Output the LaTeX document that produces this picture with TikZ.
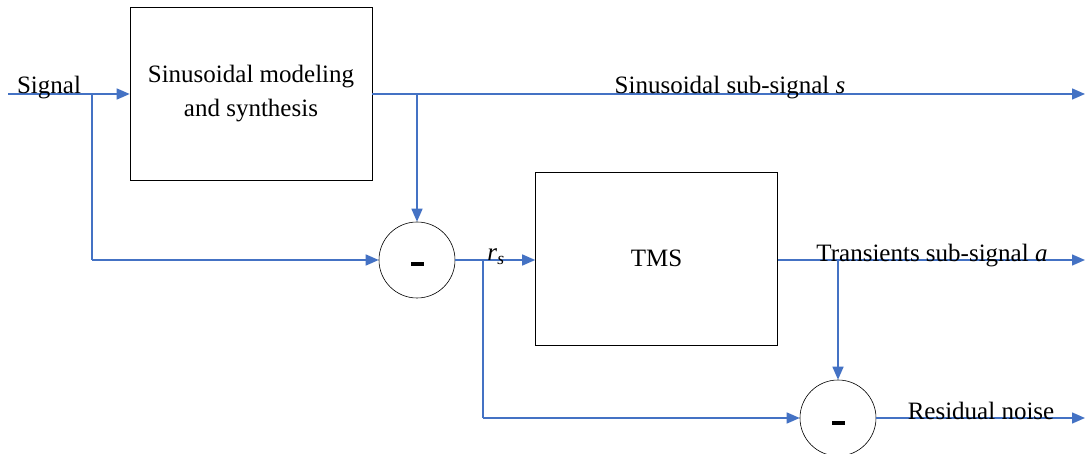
\documentclass[tikz,border=0pt]{standalone}
\usepackage{fontspec}
\setmainfont{Liberation Serif}
\usetikzlibrary{arrows.meta}
\begin{document}
\begin{tikzpicture}[x=1pt,y=-1pt,
  flow/.style={draw=sigblue, line width=1.5pt, -{Triangle[length=13pt,width=11pt]}},
  wire/.style={draw=sigblue, line width=1.5pt},
  block/.style={draw=black, line width=0.6pt, minimum width=242pt, minimum height=173pt, inner sep=0pt, align=center},
  summer/.style={draw=black, line width=0.6pt, circle, minimum size=76pt, inner sep=0pt},
  lbl/.style={font=\fontsize{25}{30}\selectfont, inner sep=0pt, anchor=base},
  minus/.style={fill=black, minimum width=13pt, minimum height=3.5pt, inner sep=0pt}]
\definecolor{sigblue}{HTML}{4472C4}
\useasboundingbox (0,0) rectangle (1085,454);

% blocks and summing junctions
\node[block, font=\fontsize{25}{34}\selectfont] (sms) at (251,93.5) {Sinusoidal modeling\\and synthesis};
\node[block, font=\fontsize{25}{30}\selectfont] (tms) at (656.5,259) {\raisebox{2.5pt}{TMS}};
\node[summer] (sub1) at (417,260) {};
\node[summer] (sub2) at (838,418) {};
\node[minus] (m1) at (417.5,264) {};
\node[minus] (m2) at (838,423) {};

% junction and end points
\coordinate (in) at (8,94);
\coordinate (j1) at (92,94);
\coordinate (j1d) at (92,260);
\coordinate (j2) at (417,94);
\coordinate (outs) at (1085,94);
\coordinate (j3) at (483,260);
\coordinate (j3d) at (483,418);
\coordinate (j4) at (838,260);
\coordinate (outa) at (1085,260);
\coordinate (outn) at (1085,418);

% connectors
\draw[flow] (in) -- (sms.west |- in);
\draw[wire] (j1) -- (j1d);
\draw[flow] (j1d) -- (sub1.west);
\draw[flow] (sms.east |- j2) -- (outs);
\draw[flow] (j2) -- (sub1.north);
\draw[flow] (sub1.east) -- (tms.west |- sub1.east);
\draw[wire] (j3) -- (j3d);
\draw[flow] (j3d) -- (sub2.west);
\draw[flow] (tms.east |- j4) -- (outa);
\draw[flow] (j4) -- (sub2.north);
\draw[flow] (sub2.east) -- (outn);

% labels
\node[lbl] (lsig) at (49,94) {Signal};
\node[lbl] (ls) at (730,94) {Sinusoidal sub-signal \textit{s}};
\node[lbl] (lr) at (496,261) {\textit{r}\textsubscript{\textit{s}}};
\node[lbl] (la) at (932,262) {Transients sub-signal \textit{a}};
\node[lbl] (ln) at (981,419) {Residual noise};
\end{tikzpicture}
\end{document}
